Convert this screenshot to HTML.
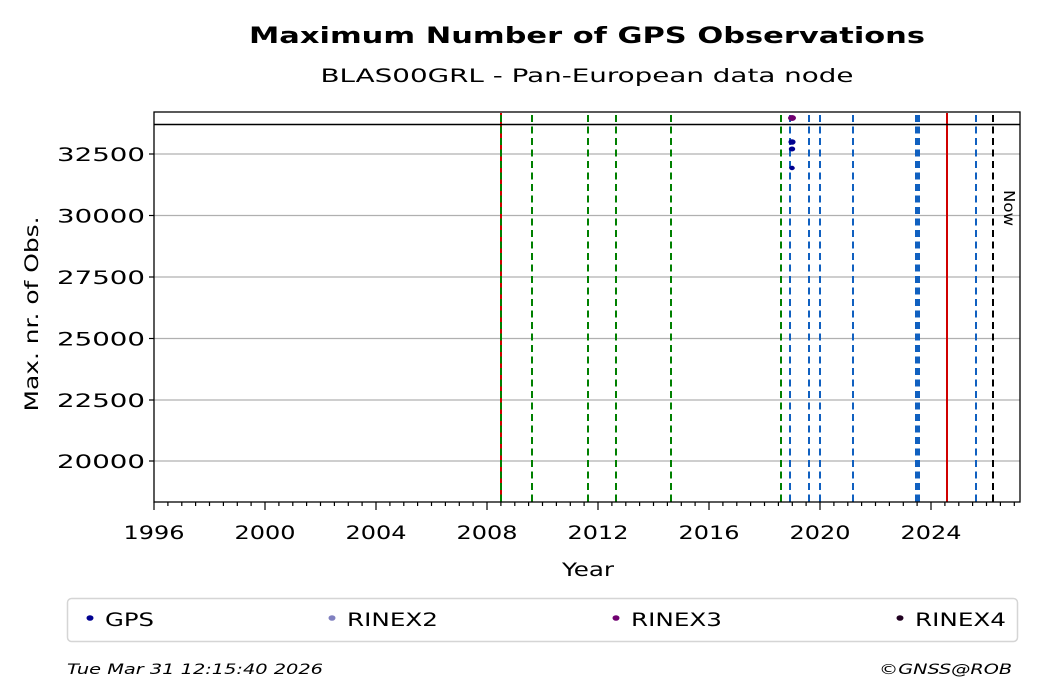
<!DOCTYPE html>
<html><head><meta charset="utf-8"><style>body{margin:0;background:#fff}svg{display:block;font-family:"DejaVu Sans","Liberation Sans",sans-serif}</style></head><body>
<svg width="1040" height="699" viewBox="0 0 1040 699" xmlns="http://www.w3.org/2000/svg">
<text x="587" y="43" font-size="22" font-weight="bold" text-anchor="middle" textLength="676" lengthAdjust="spacingAndGlyphs">Maximum Number of GPS Observations</text>
<text x="587" y="82" font-size="19" text-anchor="middle" textLength="533" lengthAdjust="spacingAndGlyphs">BLAS00GRL - Pan-European data node</text>
<g stroke="#b0b0b0" stroke-width="1.2">
<line x1="154" x2="1020" y1="154" y2="154"/><line x1="154" x2="1020" y1="215.5" y2="215.5"/><line x1="154" x2="1020" y1="277" y2="277"/><line x1="154" x2="1020" y1="338.5" y2="338.5"/><line x1="154" x2="1020" y1="400" y2="400"/><line x1="154" x2="1020" y1="461" y2="461"/>
</g>
<g stroke-width="2" stroke-dasharray="7,4.5">
<line x1="501" x2="501" y1="113" y2="502" stroke="#d00000" stroke-dasharray="none"/>
<g stroke="#008000"><line x1="501" x2="501" y1="115" y2="502"/><line x1="532" x2="532" y1="115" y2="502"/><line x1="588" x2="588" y1="115" y2="502"/><line x1="616" x2="616" y1="115" y2="502"/><line x1="671" x2="671" y1="115" y2="502"/><line x1="781" x2="781" y1="115" y2="502"/></g>
<g stroke="#1060c0"><line x1="790" x2="790" y1="115" y2="502"/><line x1="809" x2="809" y1="115" y2="502"/><line x1="820" x2="820" y1="115" y2="502"/><line x1="853" x2="853" y1="115" y2="502"/><line x1="917.5" x2="917.5" y1="115" y2="502" stroke-width="5"/><line x1="976" x2="976" y1="115" y2="502"/></g>
<line x1="947" x2="947" y1="113" y2="502" stroke="#d00000" stroke-dasharray="none"/>
<line x1="993" x2="993" y1="115" y2="502" stroke="#000"/>
</g>
<line x1="154" x2="1020" y1="124.5" y2="124.5" stroke="#000" stroke-width="1.5"/>
<ellipse cx="792" cy="118" rx="4" ry="3" fill="#700070"/>
<ellipse cx="792" cy="142" rx="3.6" ry="2.8" fill="#000090"/><ellipse cx="792" cy="149" rx="3.2" ry="2.5" fill="#000090"/><ellipse cx="792" cy="168" rx="2.8" ry="2.2" fill="#000090"/>
<text transform="translate(1004,190) rotate(90)" font-size="15" textLength="36" lengthAdjust="spacingAndGlyphs">Now</text>
<rect x="154" y="112" width="866" height="390" fill="none" stroke="#000" stroke-width="1.3"/>
<g stroke="#000" stroke-width="1.2">
<line x1="149" x2="154" y1="154" y2="154"/><line x1="149" x2="154" y1="215.5" y2="215.5"/><line x1="149" x2="154" y1="277" y2="277"/><line x1="149" x2="154" y1="338.5" y2="338.5"/><line x1="149" x2="154" y1="400" y2="400"/><line x1="149" x2="154" y1="461" y2="461"/>
<path d="M154 502v8M265 502v8M376 502v8M487 502v8M598 502v8M709 502v8M820 502v8M931 502v8"/>
<path d="M167.9 502v4M181.8 502v4M195.6 502v4M209.5 502v4M223.4 502v4M237.3 502v4M251.1 502v4M278.9 502v4M292.8 502v4M306.6 502v4M320.5 502v4M334.4 502v4M348.3 502v4M362.1 502v4M389.9 502v4M403.8 502v4M417.6 502v4M431.5 502v4M445.4 502v4M459.3 502v4M473.1 502v4M500.9 502v4M514.8 502v4M528.6 502v4M542.5 502v4M556.4 502v4M570.3 502v4M584.1 502v4M611.9 502v4M625.8 502v4M639.6 502v4M653.5 502v4M667.4 502v4M681.3 502v4M695.1 502v4M722.9 502v4M736.8 502v4M750.6 502v4M764.5 502v4M778.4 502v4M792.3 502v4M806.1 502v4M833.9 502v4M847.8 502v4M861.6 502v4M875.5 502v4M889.4 502v4M903.3 502v4M917.1 502v4M944.9 502v4M958.8 502v4M972.6 502v4M986.5 502v4M1000.4 502v4M1014.3 502v4"/>
</g>
<g font-size="19" text-anchor="end">
<text x="145" y="161" textLength="88" lengthAdjust="spacingAndGlyphs">32500</text><text x="145" y="222.5" textLength="88" lengthAdjust="spacingAndGlyphs">30000</text><text x="145" y="284" textLength="88" lengthAdjust="spacingAndGlyphs">27500</text><text x="145" y="345.5" textLength="88" lengthAdjust="spacingAndGlyphs">25000</text><text x="145" y="407" textLength="88" lengthAdjust="spacingAndGlyphs">22500</text><text x="145" y="468" textLength="88" lengthAdjust="spacingAndGlyphs">20000</text>
</g>
<g font-size="19" text-anchor="middle">
<text x="154" y="539" textLength="61" lengthAdjust="spacingAndGlyphs">1996</text><text x="265" y="539" textLength="61" lengthAdjust="spacingAndGlyphs">2000</text><text x="376" y="539" textLength="61" lengthAdjust="spacingAndGlyphs">2004</text><text x="487" y="539" textLength="61" lengthAdjust="spacingAndGlyphs">2008</text><text x="598" y="539" textLength="61" lengthAdjust="spacingAndGlyphs">2012</text><text x="709" y="539" textLength="61" lengthAdjust="spacingAndGlyphs">2016</text><text x="820" y="539" textLength="61" lengthAdjust="spacingAndGlyphs">2020</text><text x="931" y="539" textLength="61" lengthAdjust="spacingAndGlyphs">2024</text>
<text x="588" y="576" textLength="52" lengthAdjust="spacingAndGlyphs">Year</text>
<text transform="translate(38,314) rotate(-90)" textLength="195" lengthAdjust="spacingAndGlyphs">Max. nr. of Obs.</text>
</g>
<rect x="67.5" y="598.5" width="950" height="43" rx="4" fill="#fff" stroke="#d5d5d5" stroke-width="1.5"/>
<g font-size="19">
<ellipse cx="90" cy="618" rx="3.5" ry="2.8" fill="#000090"/><text x="105" y="626" textLength="49" lengthAdjust="spacingAndGlyphs">GPS</text>
<ellipse cx="332" cy="618" rx="3.5" ry="2.8" fill="#8080c0"/><text x="347" y="626" textLength="91" lengthAdjust="spacingAndGlyphs">RINEX2</text>
<ellipse cx="616" cy="618" rx="3.5" ry="2.8" fill="#700070"/><text x="631" y="626" textLength="91" lengthAdjust="spacingAndGlyphs">RINEX3</text>
<ellipse cx="900" cy="618" rx="3.5" ry="2.8" fill="#200020"/><text x="915" y="626" textLength="91" lengthAdjust="spacingAndGlyphs">RINEX4</text>
</g>
<text x="67" y="674" font-size="14" font-style="italic" textLength="256" lengthAdjust="spacingAndGlyphs">Tue Mar 31 12:15:40 2026</text>
<text x="879" y="674" font-size="14" font-style="italic" textLength="133" lengthAdjust="spacingAndGlyphs">©GNSS@ROB</text>
</svg>
</body></html>
